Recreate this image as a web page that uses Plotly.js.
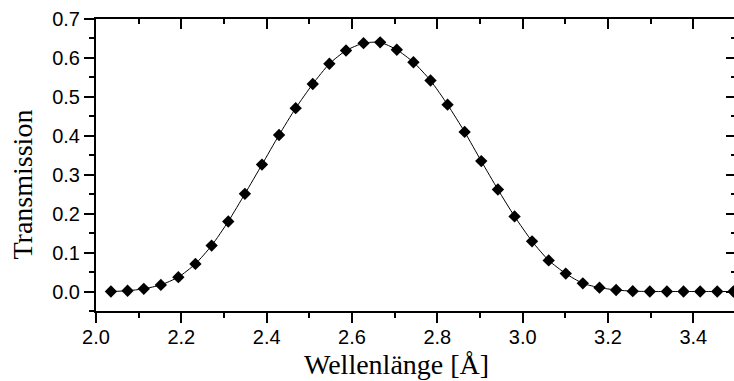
<!DOCTYPE html>
<html>
<head>
<meta charset="utf-8">
<script src="https://cdn.plot.ly/plotly-3.0.1.min.js"></script>
<style>
  html, body { margin: 0; padding: 0; background: #fff; overflow: hidden; width: 734px; height: 381px; }
  #chart { width: 740px; height: 381px; }
</style>
</head>
<body>
<div id="chart"></div>
<script>
// Wavelength [Å]
const wavelength = [
  2.035, 2.074, 2.112, 2.152, 2.193, 2.233, 2.271, 2.310, 2.349, 2.389,
  2.429, 2.468, 2.508, 2.547, 2.586, 2.627, 2.666, 2.705, 2.744, 2.784,
  2.824, 2.864, 2.903, 2.942, 2.981, 3.022, 3.061, 3.101, 3.141, 3.180,
  3.219, 3.258, 3.298, 3.338, 3.377, 3.416, 3.456, 3.494
];
// Transmission
const transmission = [
  0.000, 0.002, 0.007, 0.017, 0.037, 0.071, 0.118, 0.180, 0.251, 0.326,
  0.402, 0.471, 0.533, 0.585, 0.619, 0.638, 0.640, 0.621, 0.589, 0.542,
  0.480, 0.410, 0.335, 0.262, 0.193, 0.129, 0.080, 0.046, 0.021, 0.010,
  0.004, 0.001, 0.000, 0.000, 0.000, 0.000, 0.000, 0.000
];
const xTitle = 'Wellenlänge [Å]';
const yTitle = 'Transmission';

const tickFont = { family: 'Liberation Sans, Arial, sans-serif', size: 20, color: '#000' };
const titleFont = { family: 'Liberation Serif, Times New Roman, serif', size: 28, color: '#000' };

const trace = {
  x: wavelength,
  y: transmission,
  type: 'scatter',
  mode: 'lines+markers',
  line: { color: '#000', width: 1, shape: 'spline', smoothing: 0.6 },
  marker: { symbol: 'diamond', size: 9.5, color: '#000' },
  showlegend: false,
  hoverinfo: 'x+y'
};

// same data on the mirrored frame axes (invisible) so the top/right axes get drawn
const frameTrace = {
  x: wavelength,
  y: transmission,
  xaxis: 'x2',
  yaxis: 'y2',
  type: 'scatter',
  mode: 'markers',
  marker: { size: 1, opacity: 0, color: '#000' },
  showlegend: false,
  hoverinfo: 'skip'
};

const xRange = [2.0, 3.5];
const yRange = [-0.05, 0.7];

const layout = {
  width: 740,
  height: 381,
  margin: { l: 96, r: 4, t: 19, b: 70 },
  paper_bgcolor: '#fff',
  plot_bgcolor: '#fff',
  showlegend: false,
  xaxis: {
    range: xRange,
    dtick: 0.2,
    tick0: 2.0,
    tickformat: '.1f',
    ticks: 'outside',
    ticklen: 10,
    tickwidth: 2,
    tickcolor: '#000',
    ticklabelstandoff: -3,
    minor: { dtick: 0.1, tick0: 2.0, ticks: 'outside', ticklen: 5, tickwidth: 2, tickcolor: '#000' },
    showline: true,
    linewidth: 2,
    linecolor: '#000',
    showgrid: false,
    zeroline: false,
    tickfont: tickFont,
    fixedrange: true
  },
  yaxis: {
    range: yRange,
    dtick: 0.1,
    tick0: 0,
    tickformat: '.1f',
    ticks: 'outside',
    ticklen: 10,
    tickwidth: 2,
    tickcolor: '#000',
    minor: { dtick: 0.05, tick0: 0, ticks: 'outside', ticklen: 5, tickwidth: 2, tickcolor: '#000' },
    showline: true,
    linewidth: 2,
    linecolor: '#000',
    showgrid: false,
    zeroline: false,
    tickfont: tickFont,
    fixedrange: true
  },
  xaxis2: {
    overlaying: 'x',
    side: 'top',
    anchor: 'y2',
    range: xRange,
    dtick: 0.2,
    tick0: 2.0,
    ticks: 'inside',
    ticklen: 10,
    tickwidth: 2,
    tickcolor: '#000',
    minor: { dtick: 0.1, tick0: 2.0, ticks: 'inside', ticklen: 5, tickwidth: 2, tickcolor: '#000' },
    showticklabels: false,
    showline: true,
    linewidth: 2,
    linecolor: '#000',
    showgrid: false,
    zeroline: false,
    fixedrange: true
  },
  yaxis2: {
    overlaying: 'y',
    side: 'right',
    anchor: 'x2',
    range: yRange,
    dtick: 0.1,
    tick0: 0,
    ticks: 'inside',
    ticklen: 10,
    tickwidth: 2,
    tickcolor: '#000',
    minor: { dtick: 0.05, tick0: 0, ticks: 'inside', ticklen: 5, tickwidth: 2, tickcolor: '#000' },
    showticklabels: false,
    showline: true,
    linewidth: 2,
    linecolor: '#000',
    showgrid: false,
    zeroline: false,
    fixedrange: true
  },
  annotations: [
    {
      text: xTitle, xref: 'paper', yref: 'paper',
      x: 0.4695, y: (311 - 364) / 292,
      xanchor: 'center', yanchor: 'middle',
      showarrow: false, font: titleFont
    },
    {
      text: yTitle, xref: 'paper', yref: 'paper',
      x: (22 - 96) / 640, y: (311 - 184.5) / 292,
      xanchor: 'center', yanchor: 'middle', textangle: -90,
      showarrow: false, font: titleFont
    }
  ]
};

Plotly.newPlot('chart', [trace, frameTrace], layout, { displayModeBar: false, staticPlot: true });
</script>
</body>
</html>
